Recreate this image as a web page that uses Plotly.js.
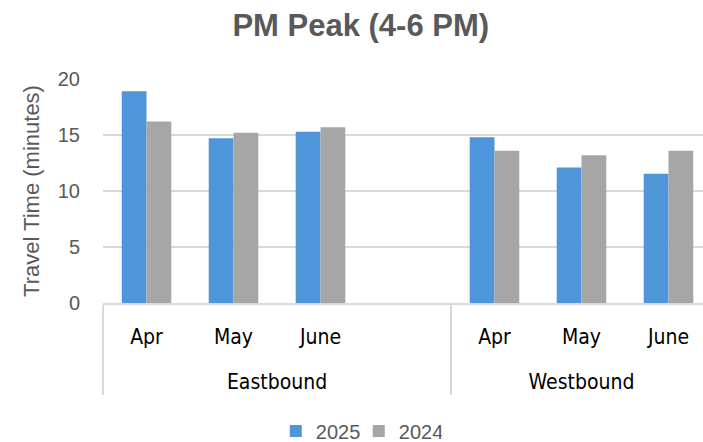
<!DOCTYPE html>
<html>
<head>
<meta charset="utf-8">
<script src="https://cdn.plot.ly/plotly-3.0.1.min.js"></script>
<style>
html,body{margin:0;padding:0;overflow:hidden;background:#fff;}
#chart{width:713px;height:442px;}
</style>
</head>
<body>
<div id="chart"></div>
<script>
const directions = ["Eastbound","Eastbound","Eastbound","Eastbound","Westbound","Westbound","Westbound"];
const months = ["Apr","May","June"," ","Apr","May","June"];
const values2025 = [18.9, 14.7, 15.3, null, 14.8, 12.1, 11.55];
const values2024 = [16.2, 15.2, 15.7, null, 13.6, 13.2, 13.6];
const seriesNames = ["2025","2024"];
const yTicks = [0,5,10,15,20];

// primary labels get an extra blank line so the group labels sit lower
const monthLabels = months.map(m => m + '<br><span style="font-size:46px">\u00a0</span>');
const x = [directions, monthLabels];
const traces = [
  {type:"bar", name:seriesNames[0], x:x, y:values2025, marker:{color:"#4e95d9", line:{width:0}}, hoverinfo:"skip"},
  {type:"bar", name:seriesNames[1], x:x, y:values2024, marker:{color:"#a6a6a6", line:{width:0}}, hoverinfo:"skip"}
];

const layout = {
  width:713, height:442,
  margin:{l:103, r:1, t:79, b:139, pad:0, autoexpand:false},
  paper_bgcolor:"#fff", plot_bgcolor:"#fff",
  font:{family:"Liberation Sans, Arial, sans-serif", color:"#595959"},
  title:{text:"<b>PM Peak (4-6 PM)</b>", font:{size:31, color:"#595959", family:"Liberation Sans, Arial, sans-serif"},
         x:0.506, xanchor:"center", y:0.943, yanchor:"middle"},
  barmode:"group", bargap:0.43, bargroupgap:0,
  showlegend:true,
  legend:{orientation:"h", x:0.42, xanchor:"center", y:-0.571, yanchor:"middle",
          font:{size:20, color:"#595959"}, itemwidth:30, entrywidth:38, traceorder:"normal"},
  xaxis:{type:"multicategory", automargin:false, showline:true, linecolor:"#d9d9d9", linewidth:1.5,
         showgrid:false, zeroline:false, ticks:"", ticklabelstandoff:14,
         tickfont:{size:21, color:"#000", family:"DejaVu Sans Condensed, DejaVu Sans, sans-serif"},
         showdividers:true, dividercolor:"#d9d9d9", dividerwidth:1.5},
  yaxis:{range:[0,20], automargin:false, tickvals:yTicks, showgrid:true, gridcolor:"#d9d9d9", gridwidth:1.5,
         zeroline:false, showline:false, ticks:"", ticklabelstandoff:22,
         tickfont:{size:20, color:"#595959"},
         title:{text:"Travel Time (minutes)", font:{size:22, color:"#595959"}, standoff:12}}
};

Plotly.newPlot("chart", traces, layout, {staticPlot:true, displayModeBar:false});
</script>
</body>
</html>
